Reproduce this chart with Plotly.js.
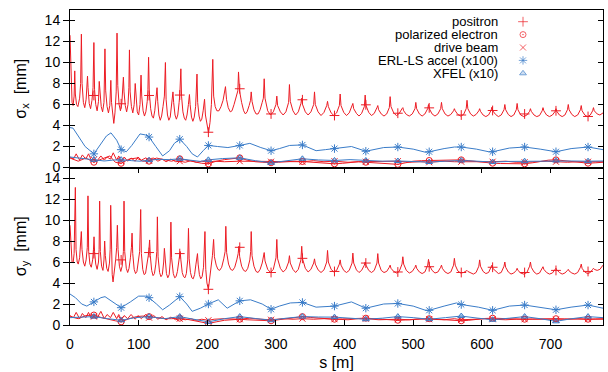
<!DOCTYPE html>
<html><head><meta charset="utf-8">
<script src="https://cdn.plot.ly/plotly-3.0.1.min.js"></script>
<style>html,body{margin:0;padding:0;background:#fff}#chart{width:608px;height:372px}</style>
</head><body><div id="chart"></div>
<script>
// ---------- data (s [m], sigma [mm]) ----------
const legendNames = ['positron','polarized electron','drive beam','ERL-LS accel (x100)','XFEL (x10)'];
const xTicks = [0,100,200,300,400,500,600,700];
const yTicks = [0,2,4,6,8,10,12,14];

// positions of point markers along s
const markS = [34.8,74.5,115.2,159.9,201.6,247.3,292.9,338.6,385.3,431.0,477.6,523.3,570.0,615.7,662.3,708.0,754.7];

// ---- sigma_x panel ----
const positronX = [[0,12.6],[1.5,8.0],[3,6.2],[4.5,5.9],[6,6.8],[6.9,9.2],[7.8,7.0],[9.5,6.0],[11.5,5.8],[14,6.6],[15.5,8.0],[16.6,12.7],[17.6,8.0],[19.5,6.2],[21.5,5.7],[23.5,6.5],[24.8,7.6],[25.5,8.7],[26.3,7.6],[28,6.1],[30,5.6],[32,6.4],[33.6,7.6],[34.8,11.9],[35.8,7.4],[37.5,6.0],[39.5,5.4],[41.5,6.3],[42.6,8.2],[43.6,7.0],[45.5,5.8],[47.5,5.3],[49.5,6.2],[50.9,11.3],[52,7.3],[54,5.8],[56,5.2],[58,5.9],[59.5,8.3],[60.5,6.2],[62.5,4.8],[63.8,4.2],[65.5,5.2],[67.3,7.2],[68.5,12.8],[69.6,7.8],[71.5,6.0],[73.5,5.4],[75.5,6.1],[77,7.4],[77.8,8.6],[78.7,7.2],[80.5,5.9],[82.5,5.3],[84.5,6.0],[85.8,7.6],[86.6,11.2],[87.6,7.2],[89.5,5.8],[91.5,5.2],[93.5,6.0],[95,8.0],[96,6.6],[98,5.3],[100,5.0],[102,6.0],[103.5,8.8],[104.5,6.8],[106.5,5.4],[108.5,4.9],[110.5,5.3],[112.5,6.3],[113.5,7.4],[114.5,10.5],[115.5,7.2],[117.5,5.6],[119.5,4.9],[121.5,4.7],[123.5,5.4],[125.5,6.6],[126.8,7.6],[127.8,6.3],[129.5,5.0],[131.5,4.5],[133.5,4.9],[135.5,5.8],[137.5,6.8],[139,10.0],[140,6.5],[142,5.0],[144,4.5],[146,4.8],[148,5.8],[149,6.6],[150,7.2],[151,6.2],[153,5.0],[155,4.6],[157,5.0],[159,6.2],[160,7.0],[161.5,9.4],[162.5,6.8],[164.5,5.3],[166.5,4.7],[168.5,4.5],[170.5,5.0],[172.5,6.0],[174,6.95],[175,6.0],[177,4.8],[179,4.4],[181,4.8],[183,5.8],[185,8.9],[186,6.2],[188,4.9],[190,4.4],[192,4.6],[194,5.4],[196,6.5],[197.3,5.0],[199.5,4.0],[201.8,3.3],[204,4.3],[206,6.0],[208,10.3],[209.3,6.8],[211.5,5.8],[214,5.4],[217,5.4],[220,5.8],[223,6.4],[225,7.0],[226.5,7.7],[228,6.5],[230.5,5.7],[233.5,5.3],[236,5.4],[239,6.0],[242,6.6],[244.5,7.3],[245.5,9.1],[247,7.3],[250,6.2],[253,5.4],[255.5,5.1],[258,5.3],[261,5.9],[263,6.4],[264,7.2],[265.2,6.3],[268,5.5],[271,5.1],[274,5.1],[277,5.5],[280,6.2],[281.7,6.6],[282.9,8.45],[284.1,6.6],[288,5.4],[292.1,5.0],[296.2,5.3],[300.1,6.0],[301.3,6.8],[302.5,5.9],[306.5,5.3],[310.5,5.0],[314.5,5.3],[318.5,6.2],[319.7,7.9],[320.9,6.3],[324.8,5.4],[328.7,5.0],[332.6,5.3],[336.4,6.1],[337.6,6.6],[338.8,6.0],[342.8,5.3],[346.9,5.0],[351,5.3],[355,6.0],[356.2,7.2],[357.4,6.0],[361.4,5.3],[365.7,4.95],[370,5.25],[374,5.9],[375.2,6.3],[376.4,5.8],[380.4,5.2],[384.4,4.95],[388.4,5.2],[392.4,5.9],[393.6,7.0],[394.8,5.9],[398.8,5.25],[402.8,4.95],[406.8,5.2],[410.9,5.8],[412.1,6.1],[413.3,5.6],[417.3,5.15],[421,4.9],[424.8,5.15],[428.8,5.8],[430,6.9],[431.2,5.9],[435.2,5.25],[439.2,4.95],[443.2,5.15],[447.2,5.7],[448.4,5.9],[449.6,5.5],[453.4,5.1],[457.4,4.9],[461.4,5.1],[465.2,5.7],[466.4,6.75],[467.6,5.8],[471.6,5.2],[475.6,4.95],[479.6,5.15],[483.7,5.6],[484.9,5.7],[486.1,5.4],[490,5.05],[494.3,4.9],[498.6,5.1],[502.6,5.6],[503.8,6.2],[505,5.6],[509,5.1],[513,4.9],[517,5.1],[521.1,5.6],[522.3,6.0],[523.5,5.6],[527.5,5.1],[531.7,4.9],[536,5.1],[540,5.6],[541.2,6.2],[542.4,5.6],[546.4,5.1],[550.6,4.9],[554.8,5.05],[558.8,5.4],[560,5.6],[561.2,5.4],[565,5.05],[569.2,4.9],[573.4,5.05],[577.2,5.6],[578.4,6.4],[579.6,5.6],[583.6,5.1],[587.6,4.9],[591.6,5.05],[595.6,5.4],[596.8,5.6],[598,5.35],[601.8,5.0],[605.8,4.85],[609.8,5.0],[613.5,5.45],[614.7,5.75],[615.9,5.4],[620,5.05],[624.1,4.85],[628.2,5.0],[632.3,5.5],[633.5,6.0],[634.7,5.5],[638.5,5.05],[642.5,4.85],[646.5,5.0],[650.2,5.5],[651.4,6.1],[652.6,5.5],[656.6,5.0],[661.1,4.85],[665.6,5.0],[669.6,5.35],[670.8,5.6],[672,5.35],[676,5.0],[680,4.85],[684,4.95],[687.9,5.4],[689.1,5.7],[690.3,5.4],[694.3,5.0],[698.5,4.85],[702.8,5.0],[706.8,5.35],[708,5.6],[709.2,5.35],[713,5.0],[717,4.85],[721,5.0],[724.7,5.5],[725.9,6.0],[727.1,5.5],[731.1,5.05],[735.3,4.85],[739.6,5.0],[743.6,5.5],[744.8,5.9],[746,5.4],[750,5.0],[754,4.85],[758,5.0],[761.4,5.4],[762.6,5.7],[763.8,5.4],[768,5.1],[772,5.0],[776.5,5.2]];
const positronXMark = [6.86,6.07,6.86,6.9,3.36,7.5,5.1,6.45,4.95,5.97,5.17,5.68,5.0,5.43,5.1,5.4,4.86];

const polarizedX = [[0,0.9],[12,0.6],[23,0.9],[34.8,0.5],[46,0.8],[58,1.1],[66,0.5],[74.5,0.4],[86,0.8],[97,0.9],[106,0.6],[115.2,0.6],[126,0.9],[138,0.7],[148,0.6],[159.9,0.83],[170,0.7],[182,0.5],[192,0.4],[201.6,0.35],[213,0.6],[225,0.75],[236,0.85],[247.3,0.92],[258,0.7],[270,0.55],[281,0.5],[292.9,0.45],[304,0.5],[315,0.55],[327,0.6],[338.6,0.57],[350,0.5],[362,0.45],[373,0.4],[385.3,0.35],[397,0.4],[408,0.5],[420,0.55],[431,0.5],[443,0.45],[455,0.4],[466,0.35],[477.6,0.3],[489,0.45],[500,0.6],[512,0.65],[523.3,0.67],[535,0.7],[547,0.72],[558,0.73],[570,0.73],[581,0.65],[593,0.55],[604,0.45],[615.7,0.41],[627,0.38],[639,0.35],[650,0.35],[662.3,0.35],[674,0.45],[685,0.6],[697,0.7],[708,0.73],[720,0.65],[731,0.55],[743,0.45],[754.7,0.41],[766,0.45],[776.5,0.5]];
const polarizedXMark = [0.5,0.4,0.6,0.83,0.35,0.92,0.45,0.57,0.35,0.5,0.3,0.67,0.73,0.41,0.35,0.73,0.41];

const driveX = [[0,1.0],[5,0.8],[9,1.3],[14,0.7],[18,1.2],[23,0.8],[27,1.3],[31,0.7],[34.8,0.75],[39,0.6],[45,1.1],[50,0.7],[54,1.0],[59,0.8],[63,1.4],[68,0.7],[71,1.1],[74.5,0.6],[79,1.0],[84,0.6],[89,0.9],[95,0.6],[99,1.0],[104,0.7],[110,0.9],[115.2,0.65],[122,0.9],[128,0.6],[134,0.8],[140,0.55],[147,0.8],[154,0.55],[159.9,0.6],[168,0.5],[176,0.65],[184,0.5],[192,0.6],[201.6,0.5],[210,0.6],[225,0.55],[247.3,0.6],[262,0.6],[278,0.55],[292.9,0.55],[310,0.6],[325,0.55],[338.6,0.55],[355,0.65],[370,0.55],[385.3,0.6],[405,0.5],[420,0.55],[431,0.55],[450,0.55],[465,0.6],[477.6,0.6],[495,0.5],[510,0.55],[523.3,0.5],[545,0.6],[560,0.55],[570,0.55],[590,0.5],[605,0.55],[615.7,0.55],[635,0.6],[650,0.5],[662.3,0.5],[680,0.55],[695,0.6],[708,0.55],[725,0.5],[740,0.55],[754.7,0.55],[776.5,0.55]];
const driveXMark = [0.75,0.6,0.65,0.6,0.5,0.6,0.55,0.55,0.6,0.55,0.6,0.5,0.55,0.55,0.5,0.55,0.55];

const erlX = [[0,3.8],[4.4,3.75],[12,3.0],[22,2.0],[34.8,1.3],[45,2.3],[53,3.0],[59.7,3.3],[68,2.6],[74.5,1.7],[82,1.5],[90,2.1],[102,3.2],[110,3.1],[115.2,2.9],[125,2.0],[135,1.1],[145,1.6],[152,2.3],[159.9,2.7],[170,2.0],[178,1.3],[185.7,1.0],[194,1.6],[201.6,2.1],[215,2.0],[230,1.9],[247.3,2.1],[262,2.3],[278,1.9],[292.9,1.6],[305,1.8],[320,2.1],[338.6,2.15],[358.5,1.6],[372,1.7],[385.3,1.8],[410,2.0],[431,1.55],[457,1.9],[477.6,1.95],[500,1.75],[518,1.45],[523.3,1.5],[545,1.8],[560,1.95],[570,1.95],[592,1.75],[610,1.5],[615.7,1.5],[640,1.85],[662.3,1.95],[685,1.75],[703,1.5],[708,1.5],[730,1.8],[754.7,1.95],[776.5,1.7]];
const erlXMark = [1.3,1.7,2.9,2.7,2.1,2.1,1.6,2.15,1.8,1.55,1.95,1.5,1.95,1.5,1.95,1.5,1.95];

const xfelX = [[0,1.0],[12,0.9],[22,0.85],[34.8,0.73],[50,0.62],[62,0.7],[74.5,0.75],[90,0.65],[102,0.6],[115.2,0.7],[130,0.78],[145,0.75],[159.9,0.83],[175,0.7],[190,0.58],[201.6,0.73],[222,0.85],[247.3,0.92],[270,0.65],[292.9,0.45],[315,0.62],[338.6,0.83],[362,0.72],[385.3,0.67],[408,0.75],[431,0.67],[455,0.6],[477.6,0.62],[500,0.58],[523.3,0.52],[547,0.6],[570,0.67],[593,0.6],[615.7,0.52],[640,0.58],[662.3,0.6],[685,0.63],[708,0.67],[731,0.62],[754.7,0.6],[776.5,0.62]];
const xfelXMark = [0.73,0.75,0.7,0.83,0.73,0.92,0.45,0.83,0.67,0.67,0.62,0.52,0.67,0.52,0.6,0.67,0.6];

// ---- sigma_y panel ----
const positronY = [[0,9.5],[1.5,7.0],[3,6.0],[4.5,5.9],[6,6.8],[7.8,13.1],[8.8,7.2],[10.5,6.0],[12,5.8],[14,6.4],[15.5,7.6],[16.5,8.9],[17.5,7.2],[19.5,6.0],[21.5,5.6],[23.5,6.2],[25.2,7.4],[26.2,12.3],[27.2,7.0],[29,5.8],[31,5.5],[33,6.2],[34.2,7.2],[35,8.4],[35.8,7.0],[37.5,5.8],[39.5,5.3],[41.5,6.0],[42.4,7.2],[43.2,11.8],[44.2,7.0],[46,5.6],[48,5.2],[49.5,6.2],[50.5,8.0],[51.5,6.6],[53.5,5.4],[55.5,5.1],[57.5,5.9],[58.5,7.2],[59.3,11.4],[60.3,6.6],[61.5,4.8],[62.7,4.1],[64.5,4.9],[66.5,6.2],[68,7.4],[69,9.5],[70,7.2],[72,5.6],[74,5.1],[76,5.6],[77.8,7.0],[78.7,11.8],[79.7,7.0],[82,5.4],[84,5.0],[86,5.4],[88,6.4],[89.5,7.4],[90.4,8.75],[91.4,6.8],[93.5,5.3],[95.5,4.9],[97.5,5.1],[99.5,5.9],[101.5,7.0],[103,11.0],[104,6.8],[106,5.3],[108,4.8],[110,4.9],[112,5.6],[114,6.6],[115,7.2],[116,8.1],[117,6.6],[119,5.2],[121,4.7],[123,4.9],[125,5.8],[126.5,7.0],[127.3,10.3],[128.3,6.5],[130.5,5.0],[132.5,4.6],[134.5,4.8],[136.5,6.0],[137.5,7.3],[138.5,6.2],[140.5,4.9],[142.5,4.5],[144.5,4.8],[146,6.0],[147,9.8],[148,6.4],[150.5,4.9],[152.5,4.5],[154.5,4.6],[156.5,5.1],[158.5,6.0],[160.5,7.0],[161.5,6.2],[163.5,5.0],[165.5,4.6],[167.5,4.5],[169.5,4.9],[171.5,6.2],[172.6,9.2],[173.6,6.3],[175.5,5.0],[177.5,4.5],[179.5,4.4],[181.5,4.8],[183.5,5.8],[185.7,6.8],[186.7,5.8],[188.5,4.8],[190.5,4.4],[192.5,4.6],[194.5,5.5],[196.6,8.9],[197.8,5.3],[199.5,4.0],[201.6,3.4],[203.5,4.4],[205.5,5.8],[207.5,6.6],[209.2,8.15],[210.4,6.5],[213,5.7],[215.5,5.3],[218,5.2],[221,5.5],[224,6.3],[226,7.0],[227,9.4],[228.2,6.9],[231,5.8],[234,5.3],[237,5.2],[240,5.5],[243,6.2],[245,6.8],[246,7.5],[247.2,6.5],[250,5.6],[253,5.2],[256,5.1],[259,5.4],[262,6.2],[263.2,7.0],[264,8.9],[265.2,6.6],[268,5.6],[271,5.1],[274,5.0],[277,5.3],[280,5.9],[281.7,6.4],[282.9,6.9],[284.1,6.1],[288,5.3],[292.1,5.0],[296.2,5.3],[300.1,6.4],[301.3,8.15],[302.5,6.3],[306.5,5.4],[310.5,5.05],[314.5,5.3],[318.5,6.0],[319.7,6.6],[320.9,5.9],[324.8,5.3],[328.7,5.0],[332.6,5.3],[336.4,6.2],[337.6,7.5],[338.8,6.3],[342.8,5.4],[346.9,5.05],[351,5.3],[355,5.9],[356.2,6.3],[357.4,5.8],[361.4,5.25],[365.7,5.0],[370,5.25],[374,6.0],[375.2,7.1],[376.4,6.0],[380.4,5.3],[384.4,5.05],[388.4,5.2],[392.4,5.8],[393.6,6.2],[394.8,5.7],[398.8,5.2],[402.8,5.0],[406.8,5.2],[410.9,5.9],[412.1,6.85],[413.3,5.9],[417.3,5.25],[421,5.0],[424.8,5.2],[428.8,5.7],[430,6.0],[431.2,5.7],[435.2,5.2],[439.2,5.0],[443.2,5.2],[447.2,5.9],[448.4,6.8],[449.6,5.9],[453.4,5.2],[457.4,5.0],[461.4,5.1],[465.2,5.5],[466.4,5.7],[467.6,5.4],[471.6,5.1],[475.6,4.95],[479.6,5.1],[483.7,5.8],[484.9,6.5],[486.1,5.8],[490,5.2],[494.3,4.95],[498.6,5.1],[502.6,5.5],[503.8,5.7],[505,5.4],[509,5.05],[513,4.9],[517,5.05],[521.1,5.7],[522.3,6.25],[523.5,5.7],[527.5,5.2],[531.7,4.95],[536,5.05],[540,5.5],[541.2,5.7],[542.4,5.4],[546.4,5.05],[550.6,4.9],[554.8,5.05],[558.8,5.7],[560,6.35],[561.2,5.7],[565,5.15],[569.2,4.95],[573.4,5.0],[577.2,5.15],[578.4,5.2],[579.6,5.1],[583.6,4.95],[587.6,4.85],[591.6,5.0],[595.6,5.6],[596.8,6.2],[598,5.6],[601.8,5.1],[605.8,4.9],[609.8,5.0],[613.5,5.5],[614.7,5.7],[615.9,5.4],[620,5.1],[624.1,4.9],[628.2,5.0],[632.3,5.6],[633.5,6.0],[634.7,5.5],[638.5,5.05],[642.5,4.85],[646.5,4.95],[650.2,5.2],[651.4,5.4],[652.6,5.2],[656.6,4.95],[661.1,4.85],[665.6,5.0],[669.6,5.6],[670.8,6.0],[672,5.5],[676,5.05],[680,4.85],[684,4.95],[687.9,5.35],[689.1,5.55],[690.3,5.3],[694.3,5.0],[698.5,4.85],[702.8,4.95],[706.8,5.3],[708,5.4],[709.2,5.25],[713,5.0],[717,4.85],[721,4.95],[724.7,5.2],[725.9,5.3],[727.1,5.15],[731.1,4.95],[735.3,4.85],[739.6,5.0],[743.6,5.5],[744.8,5.8],[746,5.4],[750,5.05],[754,4.9],[758,5.0],[761.4,5.3],[762.6,5.4],[763.8,5.3],[768,5.2],[772,5.3],[776.5,5.7]];
const positronYMark = [6.8,6.2,6.9,6.8,3.4,7.4,5.0,6.35,5.1,5.9,5.05,5.55,5.0,5.5,5.0,5.2,5.1];

const polarizedY = [[0,0.8],[12,0.6],[23,0.9],[34.8,0.95],[46,0.7],[58,0.5],[66,0.4],[74.5,0.3],[86,0.6],[97,0.8],[106,0.85],[115.2,0.8],[126,0.7],[138,0.6],[148,0.6],[159.9,0.65],[170,0.55],[182,0.4],[192,0.25],[201.6,0.15],[213,0.3],[225,0.45],[236,0.5],[247.3,0.55],[258,0.5],[270,0.45],[281,0.4],[292.9,0.4],[304,0.5],[315,0.6],[327,0.72],[338.6,0.8],[350,0.72],[362,0.65],[373,0.58],[385.3,0.55],[397,0.58],[408,0.62],[420,0.65],[431,0.65],[443,0.6],[455,0.55],[466,0.5],[477.6,0.45],[489,0.48],[500,0.52],[512,0.57],[523.3,0.6],[535,0.55],[547,0.48],[558,0.42],[570,0.4],[581,0.45],[593,0.55],[604,0.62],[615.7,0.65],[627,0.62],[639,0.58],[650,0.55],[662.3,0.55],[674,0.57],[685,0.6],[697,0.6],[708,0.6],[720,0.58],[731,0.56],[743,0.55],[754.7,0.55],[766,0.58],[776.5,0.6]];
const polarizedYMark = [0.95,0.3,0.8,0.65,0.15,0.55,0.4,0.8,0.55,0.65,0.45,0.6,0.4,0.65,0.55,0.6,0.55];

const driveY = [[0,0.9],[5,0.7],[9,1.2],[14,0.6],[18,1.1],[23,0.7],[27,1.2],[31,0.6],[34.8,0.8],[39,0.6],[45,1.3],[50,0.6],[54,1.0],[59,0.7],[63,1.2],[68,0.6],[71,1.0],[74.5,0.55],[79,0.9],[84,0.6],[89,1.0],[95,0.55],[99,0.9],[104,0.6],[110,1.0],[115.2,0.7],[122,0.9],[128,0.55],[134,0.8],[140,0.5],[147,0.75],[154,0.5],[159.9,0.6],[168,0.5],[176,0.6],[184,0.45],[192,0.55],[201.6,0.45],[210,0.55],[225,0.6],[247.3,0.55],[262,0.65],[278,0.55],[292.9,0.5],[310,0.6],[325,0.55],[338.6,0.6],[355,0.55],[370,0.6],[385.3,0.55],[405,0.5],[420,0.6],[431,0.6],[450,0.5],[465,0.55],[477.6,0.55],[495,0.5],[510,0.6],[523.3,0.55],[545,0.5],[560,0.6],[570,0.5],[590,0.55],[605,0.6],[615.7,0.55],[635,0.5],[650,0.55],[662.3,0.55],[680,0.5],[695,0.55],[708,0.5],[725,0.55],[740,0.6],[754.7,0.55],[776.5,0.55]];
const driveYMark = [0.8,0.55,0.7,0.6,0.45,0.55,0.5,0.6,0.55,0.6,0.55,0.55,0.5,0.55,0.55,0.5,0.55];

const erlY = [[0,2.95],[8,2.6],[17,2.0],[24.5,1.8],[34.8,2.2],[45,2.6],[51,2.7],[62,2.2],[70,1.8],[74.5,1.65],[88,2.2],[100,2.75],[110,2.75],[115.2,2.6],[126,2.0],[135,1.45],[145,1.9],[159.9,2.7],[170,2.0],[178,1.3],[190,1.6],[201.6,2.0],[216,2.4],[229,1.6],[247.3,2.3],[263,2.4],[280,2.0],[292.9,1.5],[305,1.8],[321,2.1],[338.6,2.15],[358.5,1.7],[385.3,1.8],[410,2.2],[431,1.6],[457,2.0],[477.6,2.05],[500,1.8],[518,1.4],[523.3,1.4],[545,1.8],[563,2.1],[570,1.95],[595,1.7],[615.7,1.4],[640,1.8],[662.3,1.9],[685,1.7],[708,1.45],[730,1.7],[754.7,1.9],[776.5,1.6]];
const erlYMark = [2.2,1.65,2.6,2.7,2.0,2.3,1.5,2.15,1.8,1.6,2.05,1.4,1.95,1.4,1.9,1.45,1.9];

const xfelY = [[0,0.7],[15,0.75],[34.8,0.8],[55,0.6],[74.5,0.45],[95,0.7],[115.2,0.8],[138,0.6],[159.9,0.8],[180,0.55],[201.6,0.3],[225,0.6],[247.3,0.8],[270,0.62],[292.9,0.45],[315,0.65],[338.6,0.8],[362,0.76],[385.3,0.75],[408,0.65],[431,0.55],[455,0.65],[477.6,0.8],[500,0.7],[523.3,0.55],[547,0.7],[570,0.85],[593,0.66],[615.7,0.5],[640,0.65],[662.3,0.8],[685,0.6],[708,0.35],[731,0.6],[754.7,0.8],[776.5,0.7]];
const xfelYMark = [0.8,0.45,0.8,0.8,0.3,0.8,0.45,0.8,0.75,0.55,0.8,0.55,0.85,0.5,0.8,0.35,0.8];

// ---------- styling ----------
const RED = '#ec1c24', BLUE = '#3a7cc8';
const FONT = 'Liberation Sans, Arial, Helvetica, sans-serif';
const symbols = [
  {symbol:'cross-thin-open', size:7, color:RED, fill:RED},
  {symbol:'circle-open-dot', size:6, color:RED, fill:RED},
  {symbol:'x-thin-open', size:6, color:RED, fill:RED},
  {symbol:'asterisk-open', size:7, color:BLUE, fill:BLUE},
  {symbol:'triangle-up', size:6, color:BLUE, fill:'rgba(58,124,200,0.35)'}
];
const sx = a => a.map(p => p[0]);
const sy = a => a.map(p => p[1]);

function lineTrace(arr, xa, ya, color){
  return {type:'scatter', mode:'lines', x:sx(arr), y:sy(arr), xaxis:xa, yaxis:ya,
          line:{color:color, width:1}, showlegend:false, hoverinfo:'skip'};
}
function markTrace(vals, xa, ya, k){
  const m = symbols[k];
  return {type:'scatter', mode:'markers', x:markS, y:vals, xaxis:xa, yaxis:ya,
          marker:{symbol:m.symbol, size:m.size, color:m.fill, line:{color:m.color, width:1}},
          showlegend:false, hoverinfo:'skip'};
}

const topLines = [positronX, polarizedX, driveX, erlX, xfelX];
const topMarks = [positronXMark, polarizedXMark, driveXMark, erlXMark, xfelXMark];
const botLines = [positronY, polarizedY, driveY, erlY, xfelY];
const botMarks = [positronYMark, polarizedYMark, driveYMark, erlYMark, xfelYMark];
const colors = [RED, RED, RED, BLUE, BLUE];

const traces = [];
for (let k = 0; k < 5; k++) {
  traces.push(lineTrace(topLines[k], 'x2', 'y2', colors[k]));
  traces.push(lineTrace(botLines[k], 'x', 'y', colors[k]));
}
for (let k = 0; k < 5; k++) {
  traces.push(markTrace(topMarks[k], 'x2', 'y4', k));
  traces.push(markTrace(botMarks[k], 'x', 'y3', k));
}
// legend keys (one per series, stacked by index)
const keyIdx = legendNames.map((_, i) => i);
traces.push({type:'scatter', mode:'markers', x:keyIdx.map(() => 0), y:keyIdx, xaxis:'x5', yaxis:'y5',
  marker:{symbol:symbols.map(s=>s.symbol), size:symbols.map(s=>s.size), color:symbols.map(s=>s.fill),
          line:{color:symbols.map(s=>s.color), width:1}}, showlegend:false, hoverinfo:'skip'});

// ---------- layout ----------
const M = {l:70, r:5, t:10, b:47};
const W = 608, H = 372;
const plotH = H - M.t - M.b;
const rowTop = 21.7, rowGap = 12.9;
const rowPaperY = i => (H - M.b - (rowTop + rowGap * i)) / plotH;

const xRange = [0, 776.5];
const yRange = [0, 15];
const tickFont = {family:FONT, size:14, color:'#000'};
const baseX = {range:xRange, tickvals:xTicks, showgrid:false, zeroline:false,
               showline:true, linecolor:'#000', linewidth:1, tickcolor:'#000', tickfont:tickFont};
const baseYLabels = {range:yRange, tickvals:yTicks, showgrid:false, zeroline:false,
               showline:true, linecolor:'#000', linewidth:1, mirror:true, tickcolor:'#000',
               ticks:'outside', ticklen:6, tickwidth:1, tickfont:tickFont};
const baseYInner = {range:yRange, tickvals:yTicks, showgrid:false, zeroline:false,
               showline:true, linecolor:'#000', linewidth:1, mirror:'ticks', tickcolor:'#000',
               ticks:'inside', ticklen:5, tickwidth:1, showticklabels:false};

const annotations = legendNames.map((name, i) => ({
  xref:'paper', yref:'paper', x:(500 - M.l) / (W - M.l - M.r), y:rowPaperY(i),
  xanchor:'right', yanchor:'middle', text:name, showarrow:false,
  font:{family:FONT, size:13, color:'#000'}
}));

const layout = {
  width:W, height:H, margin:M,
  paper_bgcolor:'#fff', plot_bgcolor:'#fff',
  font:{family:FONT, color:'#000'},
  showlegend:false,
  xaxis: Object.assign({}, baseX, {domain:[0,1], anchor:'y', ticks:'inside', ticklen:5, mirror:'ticks',
         ticklabelstandoff:6,
         title:{text:'s [m]', font:{family:FONT, size:16, color:'#000'}, standoff:6}}),
  xaxis2: Object.assign({}, baseX, {domain:[0,1], anchor:'y2', matches:'x', ticks:'', mirror:true, showticklabels:false}),
  yaxis: Object.assign({}, baseYLabels, {domain:[0,0.5], anchor:'x',
         title:{text:'σ<sub>y</sub>\u00a0\u00a0[mm]', font:{family:FONT, size:16, color:'#000'}, standoff:14}}),
  yaxis2: Object.assign({}, baseYLabels, {domain:[0.5,1], anchor:'x2',
         title:{text:'σ<sub>x</sub>\u00a0\u00a0[mm]', font:{family:FONT, size:16, color:'#000'}, standoff:14}}),
  yaxis3: Object.assign({}, baseYInner, {overlaying:'y', anchor:'x'}),
  yaxis4: Object.assign({}, baseYInner, {overlaying:'y2', anchor:'x2'}),
  xaxis5: {domain:[(523 - M.l)/(W - M.l - M.r) - 0.02, (523 - M.l)/(W - M.l - M.r) + 0.02], anchor:'y5', range:[-1,1], visible:false, fixedrange:true},
  yaxis5: {domain:[rowPaperY(4) - 0.5*rowGap/plotH, rowPaperY(0) + 0.5*rowGap/plotH], anchor:'x5', range:[4.5,-0.5], visible:false, fixedrange:true},
  annotations: annotations
};

Plotly.newPlot('chart', traces, layout, {staticPlot:true, displayModeBar:false});
</script>
</body></html>
